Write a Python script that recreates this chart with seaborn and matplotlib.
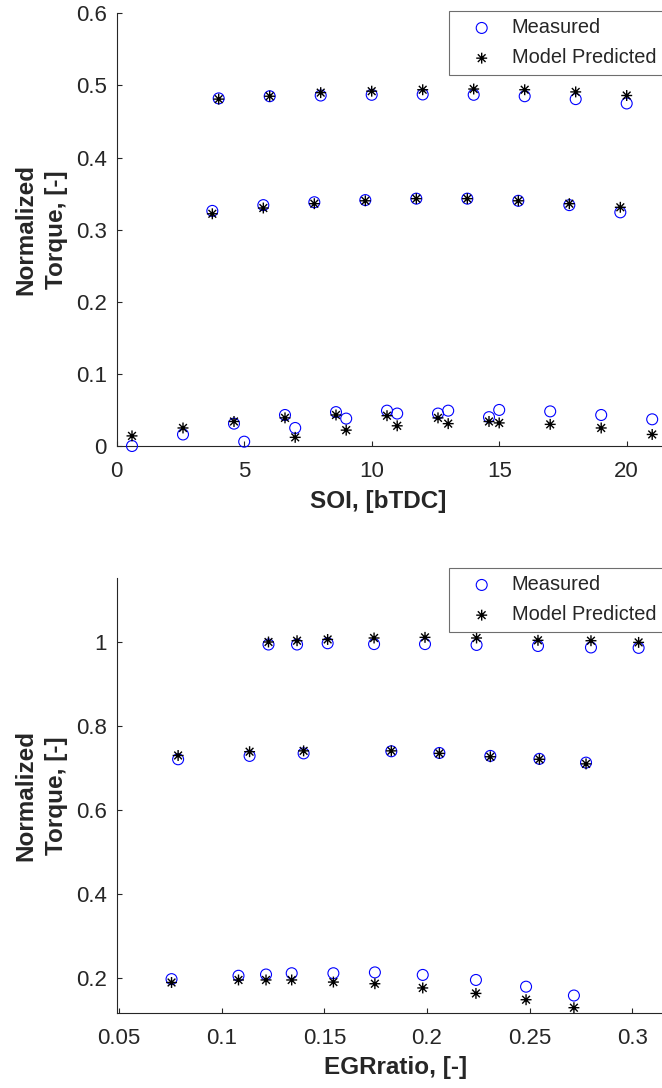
import numpy as np
import pandas as pd
import matplotlib
matplotlib.use("Agg")
import matplotlib.pyplot as plt
from matplotlib.path import Path
import seaborn as sns

nan = np.nan

# ---- SOI sweep (top panel): three load levels ----
soi_high = [4, 6, 8, 10, 12, 14, 16, 18, 20]
torque_high_meas = [0.482, 0.485, 0.486, 0.487, 0.4875, 0.487, 0.485, 0.481, 0.475]
torque_high_pred = [0.481, 0.485, 0.490, 0.492, 0.494, 0.495, 0.494, 0.491, 0.486]

soi_mid = [3.75, 5.75, 7.75, 9.75, 11.75, 13.75, 15.75, 17.75, 19.75]
torque_mid_meas = [0.326, 0.334, 0.338, 0.341, 0.343, 0.343, 0.340, 0.334, 0.324]
torque_mid_pred = [0.322, 0.330, 0.336, 0.340, 0.343, 0.343, 0.340, 0.336, 0.331]

soi_low = [0.6, 2.6, 4.6, 5.0, 6.6, 7.0, 8.6, 9.0, 10.6, 11.0, 12.6, 13.0,
           14.6, 15.0, 17.0, 19.0, 21.0]
torque_low_meas = [0.000, 0.016, 0.031, 0.006, 0.043, 0.025, 0.047, 0.038, 0.049,
                   0.045, 0.045, 0.049, 0.040, 0.050, 0.048, 0.043, 0.037]
torque_low_pred = [0.014, 0.025, 0.034, nan, 0.039, 0.012, 0.043, 0.022, 0.042,
                   0.028, 0.039, 0.031, 0.034, 0.032, 0.030, 0.025, 0.016]

# ---- EGR sweep (bottom panel): three load levels ----
egr_high = [0.1228, 0.1367, 0.1516, 0.1742, 0.199, 0.2241, 0.254, 0.2798, 0.303]
egr_high_meas = [0.994, 0.994, 0.997, 0.995, 0.995, 0.993, 0.9905, 0.987, 0.986]
egr_high_pred = [1.000, 1.003, 1.006, 1.0095, 1.011, 1.0095, 1.004, 1.003, 0.999]

egr_mid = [0.0788, 0.1136, 0.1399, 0.1826, 0.206, 0.2308, 0.2547, 0.2774]
egr_mid_meas = [0.721, 0.729, 0.735, 0.740, 0.736, 0.729, 0.722, 0.713]
egr_mid_pred = [0.730, 0.739, 0.741, 0.741, 0.735, 0.727, 0.721, 0.710]

egr_low = [0.0756, 0.1082, 0.1216, 0.1341, 0.1544, 0.1746, 0.1979, 0.2238,
           0.2482, 0.2715]
egr_low_meas = [0.198, 0.206, 0.209, 0.212, 0.212, 0.214, 0.208, 0.196, 0.180, 0.159]
egr_low_pred = [0.190, 0.196, 0.196, 0.196, 0.191, 0.187, 0.177, 0.164, 0.149, 0.130]

soi_ticks = [0, 5, 10, 15, 20]
soi_torque_ticks = [0, 0.1, 0.2, 0.3, 0.4, 0.5, 0.6]
soi_torque_labels = ["0", "0.1", "0.2", "0.3", "0.4", "0.5", "0.6"]
egr_ticks = [0.05, 0.1, 0.15, 0.2, 0.25, 0.3]
egr_tick_labels = ["0.05", "0.1", "0.15", "0.2", "0.25", "0.3"]
egr_torque_ticks = [0.2, 0.4, 0.6, 0.8, 1.0]
egr_torque_labels = ["0.2", "0.4", "0.6", "0.8", "1"]

sns.set_theme(style="ticks")
plt.rcParams["font.family"] = ["Liberation Sans", "DejaVu Sans"]
plt.rcParams.update({
    "axes.edgecolor": "#262626",
    "axes.linewidth": 0.8,
    "xtick.color": "#262626",
    "ytick.color": "#262626",
    "xtick.direction": "in",
    "ytick.direction": "in",
    "xtick.major.size": 3.8,
    "ytick.major.size": 3.8,
    "xtick.major.width": 0.8,
    "ytick.major.width": 0.8,
    "text.color": "#262626",
    "axes.labelcolor": "#262626",
})

TICK_FS = 16
LABEL_FS = 17.5
LEGEND_FS = 14.4

# MATLAB-style asterisk: '+' overlaid with 'x'
d = np.sqrt(0.5)
asterisk = Path(
    [(0, -1), (0, 1), (-1, 0), (1, 0), (-d, -d), (d, d), (-d, d), (d, -d)],
    [Path.MOVETO, Path.LINETO] * 4,
)


def long_frame(xs, meas, pred):
    x = np.concatenate([np.asarray(v, float) for v in xs])
    m = np.concatenate([np.asarray(v, float) for v in meas])
    p = np.concatenate([np.asarray(v, float) for v in pred])
    return pd.DataFrame({"x": x, "meas": m, "pred": p})


def draw_panel(ax, df):
    sns.scatterplot(data=df, x="x", y="meas", ax=ax, marker="o", s=62,
                    color="blue", facecolors="none", edgecolor="blue",
                    linewidth=0.8, label="Measured", clip_on=False, zorder=3)
    sns.scatterplot(data=df.dropna(subset=["pred"]), x="x", y="pred", ax=ax,
                    marker=asterisk, s=62, color="black", facecolors="none",
                    edgecolor="black", linewidth=1.0, label="Model Predicted",
                    clip_on=False, zorder=4)


W, H = 662, 1088
fig = plt.figure(figsize=(W / 100, H / 100), dpi=100)

ax_left = 116.7 / W
ax_width = (W - 116.7) / W
ax1 = fig.add_axes([ax_left, 1 - 446 / H, ax_width, (446 - 13.3) / H])
ax2 = fig.add_axes([ax_left, 1 - 1013.3 / H, ax_width, (1013.3 - 578.3) / H])

soi_df = long_frame([soi_high, soi_mid, soi_low],
                    [torque_high_meas, torque_mid_meas, torque_low_meas],
                    [torque_high_pred, torque_mid_pred, torque_low_pred])
egr_df = long_frame([egr_high, egr_mid, egr_low],
                    [egr_high_meas, egr_mid_meas, egr_low_meas],
                    [egr_high_pred, egr_mid_pred, egr_low_pred])

draw_panel(ax1, soi_df)
draw_panel(ax2, egr_df)

# axis limits and ticks
ax1.set_xlim(0, (W - 116.7) / 25.5)
ax1.set_ylim(0, 0.6)
ax1.set_xticks(soi_ticks, [str(t) for t in soi_ticks])
ax1.set_yticks(soi_torque_ticks, soi_torque_labels)

ax2.set_xlim(0.0489, 0.0489 + (W - 116.7) / 2054)
ax2.set_ylim(0.1167, 1.1515)
ax2.set_xticks(egr_ticks, egr_tick_labels)
ax2.set_yticks(egr_torque_ticks, egr_torque_labels)

for ax in (ax1, ax2):
    sns.despine(ax=ax, top=True, right=True)
    ax.tick_params(axis="both", labelsize=TICK_FS)
    ax.tick_params(axis="x", pad=10.5)
    ax.tick_params(axis="y", pad=7)
    ax.set_ylabel("Normalized\nTorque, [-]", fontsize=LABEL_FS,
                  fontweight="bold", linespacing=1.42)
    ax.yaxis.set_label_coords(-0.0893, 0.5)

ax1.set_xlabel("SOI, [bTDC]", fontsize=LABEL_FS, fontweight="bold")
ax1.xaxis.set_label_coords(0.479, -0.1017)
ax2.set_xlabel("EGRratio, [-]", fontsize=LABEL_FS, fontweight="bold")
ax2.xaxis.set_label_coords(0.512, -0.0975)

# legends anchored at the upper right of each panel
for ax, top_px in ((ax1, 11), (ax2, 568)):
    leg = ax.legend(loc="upper left",
                    bbox_to_anchor=(449.3 / W, 1 - top_px / H),
                    bbox_transform=fig.transFigure, borderaxespad=0,
                    frameon=True, fancybox=False, framealpha=1,
                    edgecolor="#6e6e6e", fontsize=LEGEND_FS,
                    handletextpad=0.24, borderpad=0.36, labelspacing=0.56,
                    handlelength=2.52)
    leg.get_frame().set_linewidth(0.8)

fig.savefig("out.png", dpi=100)
